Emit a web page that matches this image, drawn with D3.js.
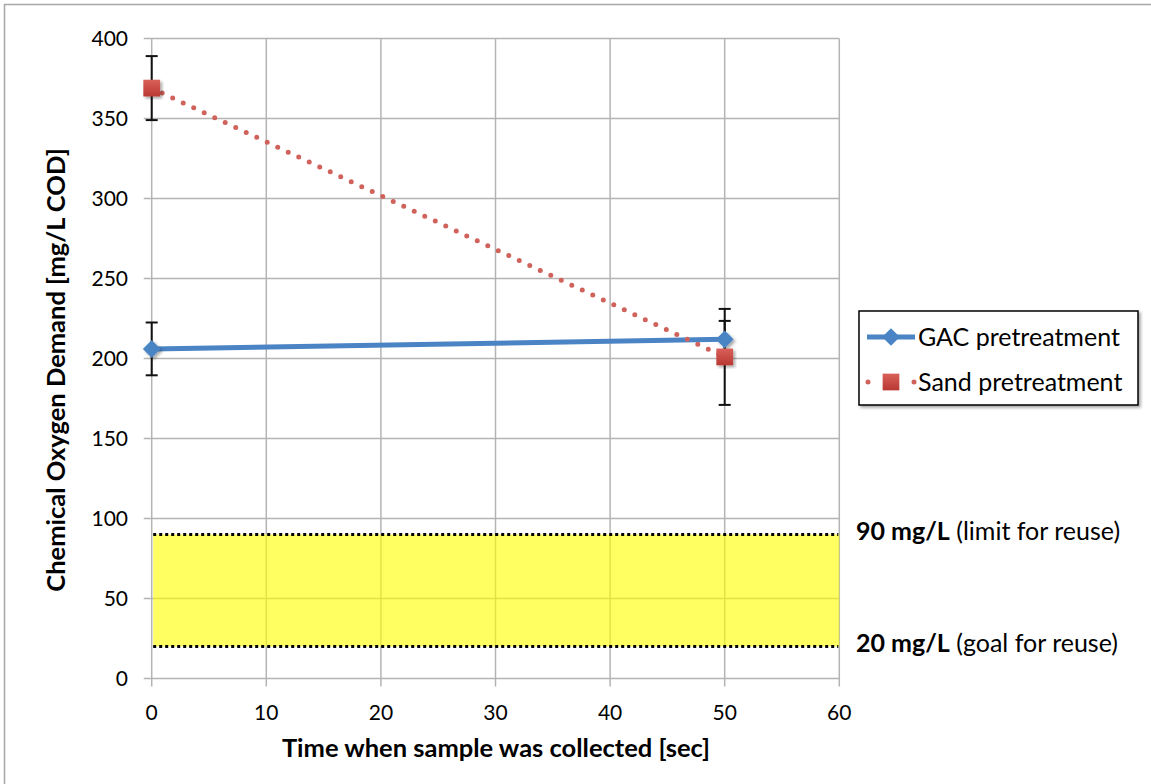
<!DOCTYPE html>
<html>
<head>
<meta charset="utf-8">
<script src="https://cdn.jsdelivr.net/npm/d3@7"></script>
<style>
  body { margin: 0; background: #fff; }
  svg { display: block; }
</style>
</head>
<body>
<svg></svg>
<script>
'use strict';

const svgWidth = 1151;
const svgHeight = 784;

// data
const timeSec = [0, 50];
const gacCOD = [206, 212];
const gacErr = [16.5, 11.5];
const sandCOD = [369, 201];
const sandErr = [20, 30];

const xTicks = [0, 10, 20, 30, 40, 50, 60];
const yTicks = [0, 50, 100, 150, 200, 250, 300, 350, 400];

const limitLevels = [90, 20];
const limitBold = ['90 mg/L', '20 mg/L'];
const limitNotes = [' (limit for reuse)', ' (goal for reuse)'];

const seriesNames = ['GAC pretreatment', 'Sand pretreatment'];

const font = 'Lato, "Open Sans", sans-serif';
const gridColor = '#b4b4b4';
const gacColor = '#4a84c4';
const sandColor = '#d0625c';

const svg = d3.select('svg')
  .attr('width', svgWidth)
  .attr('height', svgHeight)
  .attr('font-family', font);

const x = d3.scaleLinear().domain([0, 60]).range([151.7, 839.3]);
const y = d3.scaleLinear().domain([0, 400]).range([678.5, 38.5]);

const defs = svg.append('defs');
const shadow = defs.append('filter').attr('id', 'shadow')
  .attr('x', '-20%').attr('y', '-20%').attr('width', '140%').attr('height', '140%');
shadow.append('feDropShadow')
  .attr('dx', 2).attr('dy', 2).attr('stdDeviation', 1.5)
  .attr('flood-color', '#000').attr('flood-opacity', 0.35);

const sqGrad = defs.append('linearGradient').attr('id', 'sqGrad')
  .attr('x1', 0).attr('y1', 0).attr('x2', 0).attr('y2', 1);
sqGrad.append('stop').attr('offset', '0%').attr('stop-color', '#d9605a');
sqGrad.append('stop').attr('offset', '100%').attr('stop-color', '#b93833');

// outer frame (only top and left visible in the reference)
svg.append('path')
  .attr('d', `M4.5,${svgHeight + 2} V4.5 H${svgWidth + 2}`)
  .attr('fill', 'none')
  .attr('stroke', '#a8a8a8')
  .attr('stroke-width', 1.5);

// grid
const gridG = svg.append('g')
  .attr('stroke', gridColor)
  .attr('stroke-width', 1.5);

gridG.selectAll('line.h')
  .data(yTicks)
  .join('line')
  .attr('class', 'h')
  .attr('x1', x(0) - 8)
  .attr('x2', x(60))
  .attr('y1', d => y(d))
  .attr('y2', d => y(d));

gridG.selectAll('line.v')
  .data(xTicks)
  .join('line')
  .attr('class', 'v')
  .attr('x1', d => x(d))
  .attr('x2', d => x(d))
  .attr('y1', y(400))
  .attr('y2', y(0) + 8);

// yellow reuse band
svg.append('rect')
  .attr('x', x(0) + 1.5)
  .attr('width', x(60) - x(0) - 1.5)
  .attr('y', y(limitLevels[0]))
  .attr('height', y(limitLevels[1]) - y(limitLevels[0]))
  .attr('fill', '#ffff00')
  .attr('opacity', 0.62);

svg.append('g')
  .selectAll('line')
  .data(limitLevels)
  .join('line')
  .attr('x1', x(0) + 1.5)
  .attr('x2', x(60) - 1)
  .attr('y1', d => y(d))
  .attr('y2', d => y(d))
  .attr('stroke', '#000')
  .attr('stroke-width', 3)
  .attr('stroke-dasharray', '3,3');

// tick labels
svg.append('g')
  .attr('font-size', 21)
  .attr('fill', '#000')
  .attr('text-anchor', 'end')
  .selectAll('text')
  .data(yTicks)
  .join('text')
  .attr('x', 128)
  .attr('y', d => y(d))
  .attr('dy', '0.35em')
  .text(d => d);

svg.append('g')
  .attr('font-size', 21)
  .attr('fill', '#000')
  .attr('text-anchor', 'middle')
  .selectAll('text')
  .data(xTicks)
  .join('text')
  .attr('x', d => x(d))
  .attr('y', 720)
  .text(d => d);

// axis titles
svg.append('text')
  .attr('x', 496)
  .attr('y', 757)
  .attr('text-anchor', 'middle')
  .attr('font-size', 25.5)
  .attr('font-weight', 'bold')
  .text('Time when sample was collected [sec]');

svg.append('text')
  .attr('transform', 'translate(65, 370) rotate(-90)')
  .attr('text-anchor', 'middle')
  .attr('font-size', 25.5)
  .attr('font-weight', 'bold')
  .text('Chemical Oxygen Demand [mg/L COD]');

// error bars
function errorBars(vals, errs) {
  const g = svg.append('g')
    .attr('stroke', '#111')
    .attr('stroke-width', 2);
  const rows = timeSec.map((t, i) => ({ t, v: vals[i], e: errs[i] }));
  g.selectAll('line.bar')
    .data(rows)
    .join('line')
    .attr('class', 'bar')
    .attr('x1', d => x(d.t)).attr('x2', d => x(d.t))
    .attr('y1', d => y(d.v + d.e)).attr('y2', d => y(d.v - d.e));
  g.selectAll('line.capTop')
    .data(rows)
    .join('line')
    .attr('class', 'capTop')
    .attr('x1', d => x(d.t) - 6).attr('x2', d => x(d.t) + 6)
    .attr('y1', d => y(d.v + d.e)).attr('y2', d => y(d.v + d.e));
  g.selectAll('line.capBot')
    .data(rows)
    .join('line')
    .attr('class', 'capBot')
    .attr('x1', d => x(d.t) - 6).attr('x2', d => x(d.t) + 6)
    .attr('y1', d => y(d.v - d.e)).attr('y2', d => y(d.v - d.e));
}
errorBars(gacCOD, gacErr);
errorBars(sandCOD, sandErr);

const line = d3.line().x(d => x(d[0])).y(d => y(d[1]));
const gacPts = timeSec.map((t, i) => [t, gacCOD[i]]);
const sandPts = timeSec.map((t, i) => [t, sandCOD[i]]);

svg.append('path')
  .attr('d', line(gacPts))
  .attr('fill', 'none')
  .attr('stroke', gacColor)
  .attr('stroke-width', 5);

svg.append('path')
  .attr('d', line(sandPts))
  .attr('fill', 'none')
  .attr('stroke', sandColor)
  .attr('stroke-width', 5)
  .attr('stroke-linecap', 'round')
  .attr('stroke-dasharray', '0,11.6');

const diamond = d3.symbol().type(d3.symbolDiamond2).size(200);
const square = d3.symbol().type(d3.symbolSquare).size(280);

svg.append('g')
  .selectAll('path')
  .data(gacPts)
  .join('path')
  .attr('transform', d => `translate(${x(d[0])},${y(d[1])})`)
  .attr('d', diamond)
  .attr('fill', gacColor)
  .attr('filter', 'url(#shadow)');

svg.append('g')
  .selectAll('path')
  .data(sandPts)
  .join('path')
  .attr('transform', d => `translate(${x(d[0])},${y(d[1])})`)
  .attr('d', square)
  .attr('fill', 'url(#sqGrad)')
  .attr('filter', 'url(#shadow)');

// limit annotations
const noteG = svg.append('g')
  .attr('font-size', 25)
  .attr('fill', '#000');

const notes = noteG.selectAll('text')
  .data(limitLevels)
  .join('text')
  .attr('x', 856)
  .attr('y', d => y(d) - 3)
  .attr('dy', '0.35em');
notes.append('tspan')
  .attr('font-weight', 'bold')
  .text((d, i) => limitBold[i]);
notes.append('tspan')
  .text((d, i) => limitNotes[i]);

// legend
const legendG = svg.append('g')
  .attr('transform', 'translate(859, 311)');

legendG.append('rect')
  .attr('width', 279)
  .attr('height', 94)
  .attr('fill', '#fff')
  .attr('stroke', '#000')
  .attr('stroke-width', 1.5)
  .attr('filter', 'url(#shadow)');

const rowY = [26, 71];

legendG.append('line')
  .attr('x1', 8).attr('x2', 56)
  .attr('y1', rowY[0]).attr('y2', rowY[0])
  .attr('stroke', gacColor)
  .attr('stroke-width', 5);
legendG.append('path')
  .attr('transform', `translate(32,${rowY[0]})`)
  .attr('d', diamond)
  .attr('fill', gacColor);

legendG.append('line')
  .attr('x1', 9).attr('x2', 56)
  .attr('y1', rowY[1]).attr('y2', rowY[1])
  .attr('stroke', sandColor)
  .attr('stroke-width', 5)
  .attr('stroke-linecap', 'round')
  .attr('stroke-dasharray', '0,23');
legendG.append('path')
  .attr('transform', `translate(32,${rowY[1]})`)
  .attr('d', square)
  .attr('fill', 'url(#sqGrad)');

legendG.selectAll('text')
  .data(seriesNames)
  .join('text')
  .attr('x', 59)
  .attr('y', (d, i) => rowY[i])
  .attr('dy', '0.35em')
  .attr('font-size', 25)
  .text(d => d);
</script>
</body>
</html>
